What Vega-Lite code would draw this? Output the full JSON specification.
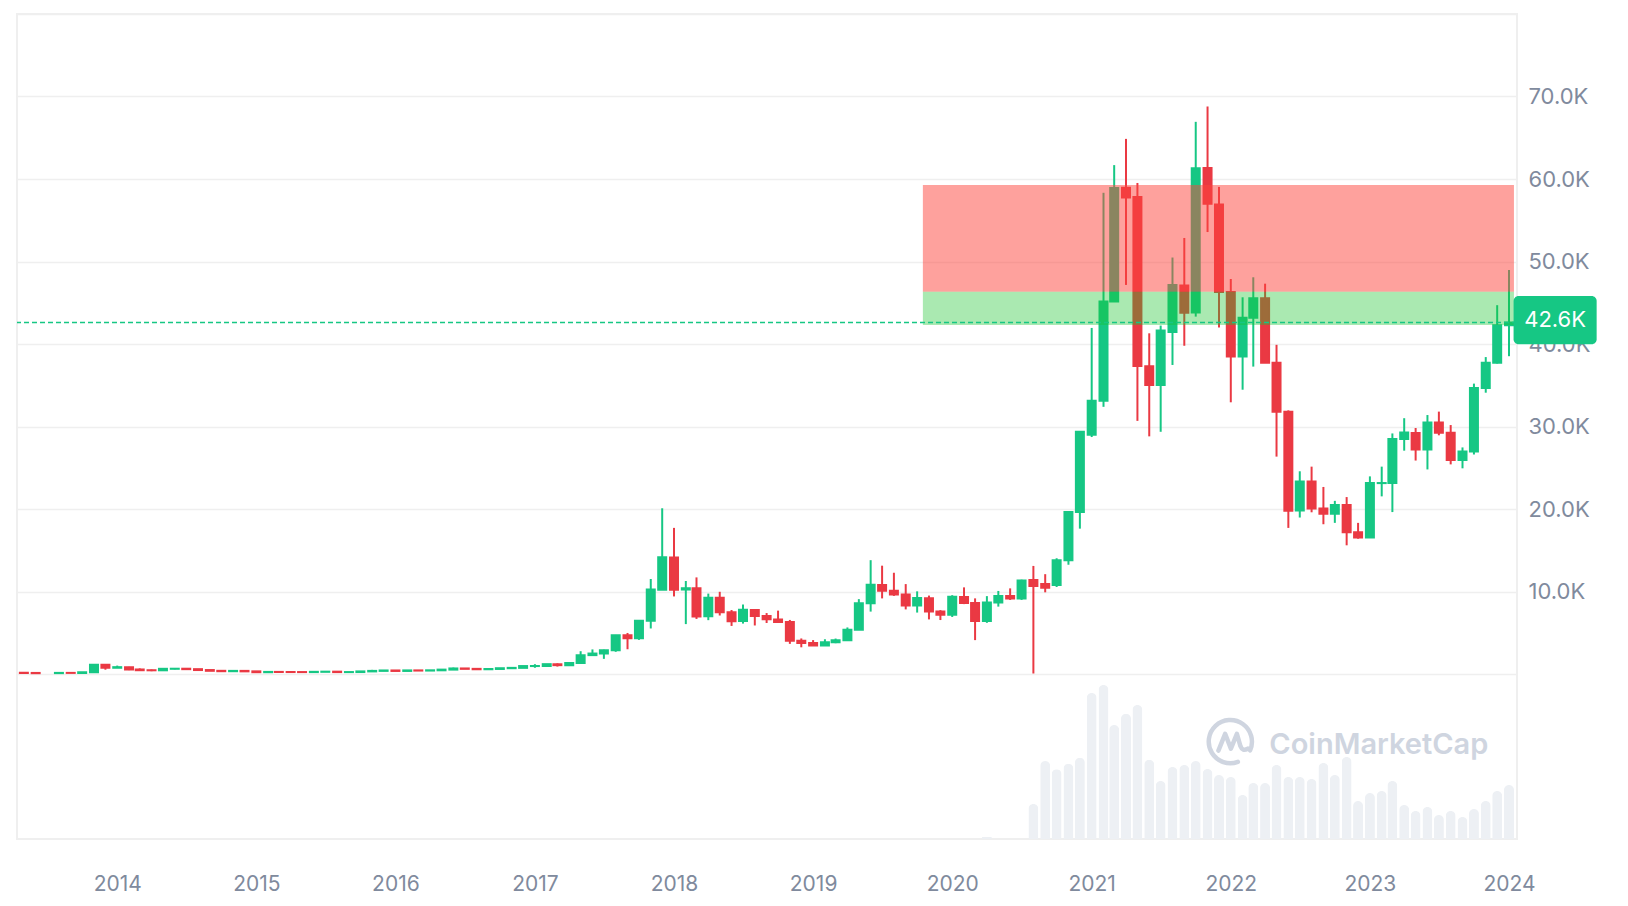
{
  "$schema": "https://vega.github.io/schema/vega-lite/v6.json",
  "width": 1500,
  "height": 825,
  "autosize": {"type": "none"},
  "padding": {"left": 17, "top": 14, "right": 111, "bottom": 67},
  "background": "white",
  "config": {"font": "Inter", "view": {"stroke": "#efefef", "strokeWidth": 2}},
  "datasets": {
    "btc": [
      {"date": "2013-05-01", "open": 139, "high": 139.9, "low": 90, "close": 129},
      {"date": "2013-06-01", "open": 129.3, "high": 129.8, "low": 88, "close": 97.5},
      {"date": "2013-08-01", "open": 106.2, "high": 136, "low": 101.6, "close": 135.4},
      {"date": "2013-09-01", "open": 135.1, "high": 146, "low": 119, "close": 133},
      {"date": "2013-10-01", "open": 132.7, "high": 214, "low": 104.4, "close": 204},
      {"date": "2013-11-01", "open": 203.9, "high": 1156, "low": 199.1, "close": 1129},
      {"date": "2013-12-01", "open": 1128, "high": 1156, "low": 522, "close": 754},
      {"date": "2014-01-01", "open": 755, "high": 1017, "low": 739, "close": 829},
      {"date": "2014-02-01", "open": 829, "high": 871, "low": 470, "close": 549},
      {"date": "2014-03-01", "open": 549, "high": 679, "low": 446, "close": 458},
      {"date": "2014-04-01", "open": 458, "high": 547, "low": 340, "close": 448},
      {"date": "2014-05-01", "open": 448, "high": 633, "low": 437, "close": 630},
      {"date": "2014-06-01", "open": 630, "high": 672, "low": 558, "close": 641},
      {"date": "2014-07-01", "open": 641, "high": 655, "low": 566, "close": 586},
      {"date": "2014-08-01", "open": 587, "high": 600, "low": 450, "close": 480},
      {"date": "2014-09-01", "open": 480, "high": 494, "low": 372, "close": 386},
      {"date": "2014-10-01", "open": 387, "high": 412, "low": 289, "close": 338},
      {"date": "2014-11-01", "open": 338, "high": 457, "low": 318, "close": 378},
      {"date": "2014-12-01", "open": 378, "high": 380, "low": 310, "close": 320},
      {"date": "2015-01-01", "open": 320, "high": 320, "low": 171, "close": 217},
      {"date": "2015-02-01", "open": 217, "high": 267, "low": 212, "close": 254},
      {"date": "2015-03-01", "open": 254, "high": 299, "low": 236, "close": 244},
      {"date": "2015-04-01", "open": 244, "high": 258, "low": 214, "close": 236},
      {"date": "2015-05-01", "open": 236, "high": 249, "low": 226, "close": 230},
      {"date": "2015-06-01", "open": 230, "high": 268, "low": 218, "close": 263},
      {"date": "2015-07-01", "open": 263, "high": 316, "low": 253, "close": 284},
      {"date": "2015-08-01", "open": 284, "high": 285, "low": 199, "close": 230},
      {"date": "2015-09-01", "open": 230, "high": 247, "low": 225, "close": 236},
      {"date": "2015-10-01", "open": 236, "high": 333, "low": 235, "close": 314},
      {"date": "2015-11-01", "open": 314, "high": 502, "low": 304, "close": 377},
      {"date": "2015-12-01", "open": 377, "high": 466, "low": 350, "close": 430},
      {"date": "2016-01-01", "open": 430, "high": 463, "low": 351, "close": 368},
      {"date": "2016-02-01", "open": 369, "high": 448, "low": 366, "close": 437},
      {"date": "2016-03-01", "open": 437, "high": 439, "low": 395, "close": 416},
      {"date": "2016-04-01", "open": 416, "high": 467, "low": 414, "close": 448},
      {"date": "2016-05-01", "open": 448, "high": 554, "low": 434, "close": 531},
      {"date": "2016-06-01", "open": 531, "high": 778, "low": 526, "close": 673},
      {"date": "2016-07-01", "open": 673, "high": 705, "low": 606, "close": 624},
      {"date": "2016-08-01", "open": 624, "high": 626, "low": 540, "close": 575},
      {"date": "2016-09-01", "open": 575, "high": 613, "low": 569, "close": 609},
      {"date": "2016-10-01", "open": 610, "high": 721, "low": 609, "close": 701},
      {"date": "2016-11-01", "open": 702, "high": 753, "low": 684, "close": 743},
      {"date": "2016-12-01", "open": 743, "high": 979, "low": 741, "close": 963},
      {"date": "2017-01-01", "open": 963, "high": 1191, "low": 755, "close": 971},
      {"date": "2017-02-01", "open": 971, "high": 1215, "low": 939, "close": 1193},
      {"date": "2017-03-01", "open": 1180, "high": 1290, "low": 903, "close": 1071},
      {"date": "2017-04-01", "open": 1071, "high": 1347, "low": 1060, "close": 1348},
      {"date": "2017-05-01", "open": 1348, "high": 2763, "low": 1348, "close": 2286},
      {"date": "2017-06-01", "open": 2288, "high": 2981, "low": 2301, "close": 2480},
      {"date": "2017-07-01", "open": 2492, "high": 2954, "low": 1836, "close": 2875},
      {"date": "2017-08-01", "open": 2871, "high": 4736, "low": 2691, "close": 4703},
      {"date": "2017-09-01", "open": 4701, "high": 4975, "low": 3000, "close": 4339},
      {"date": "2017-10-01", "open": 4341, "high": 6470, "low": 4140, "close": 6468},
      {"date": "2017-11-01", "open": 6440, "high": 11517, "low": 5519, "close": 10233},
      {"date": "2017-12-01", "open": 10198, "high": 20089, "low": 10198, "close": 14156},
      {"date": "2018-01-01", "open": 14112, "high": 17712, "low": 9402, "close": 10221},
      {"date": "2018-02-01", "open": 10238, "high": 11274, "low": 6048, "close": 10397},
      {"date": "2018-03-01", "open": 10385, "high": 11710, "low": 6675, "close": 6973},
      {"date": "2018-04-01", "open": 7003, "high": 9745, "low": 6526, "close": 9240},
      {"date": "2018-05-01", "open": 9251, "high": 9964, "low": 7090, "close": 7494},
      {"date": "2018-06-01", "open": 7500, "high": 7754, "low": 5826, "close": 6404},
      {"date": "2018-07-01", "open": 6411, "high": 8424, "low": 6111, "close": 7780},
      {"date": "2018-08-01", "open": 7769, "high": 7769, "low": 5881, "close": 7037},
      {"date": "2018-09-01", "open": 7044, "high": 7388, "low": 6183, "close": 6625},
      {"date": "2018-10-01", "open": 6619, "high": 7681, "low": 6197, "close": 6318},
      {"date": "2018-11-01", "open": 6318, "high": 6552, "low": 3652, "close": 4017},
      {"date": "2018-12-01", "open": 4025, "high": 4309, "low": 3236, "close": 3743},
      {"date": "2019-01-01", "open": 3746, "high": 4109, "low": 3401, "close": 3458},
      {"date": "2019-02-01", "open": 3460, "high": 4210, "low": 3397, "close": 3854},
      {"date": "2019-03-01", "open": 3853, "high": 4296, "low": 3733, "close": 4105},
      {"date": "2019-04-01", "open": 4105, "high": 5643, "low": 4096, "close": 5350},
      {"date": "2019-05-01", "open": 5350, "high": 9074, "low": 5347, "close": 8574},
      {"date": "2019-06-01", "open": 8573, "high": 13796, "low": 7564, "close": 10817},
      {"date": "2019-07-01", "open": 10796, "high": 13130, "low": 9164, "close": 10085},
      {"date": "2019-08-01", "open": 10077, "high": 12273, "low": 9467, "close": 9630},
      {"date": "2019-09-01", "open": 9630, "high": 10898, "low": 7830, "close": 8293},
      {"date": "2019-10-01", "open": 8299, "high": 10021, "low": 7446, "close": 9199},
      {"date": "2019-11-01", "open": 9193, "high": 9505, "low": 6617, "close": 7569},
      {"date": "2019-12-01", "open": 7571, "high": 7743, "low": 6540, "close": 7193},
      {"date": "2020-01-01", "open": 7194, "high": 9553, "low": 6914, "close": 9350},
      {"date": "2020-02-01", "open": 9346, "high": 10500, "low": 8471, "close": 8599},
      {"date": "2020-03-01", "open": 8600, "high": 9167, "low": 4107, "close": 6438},
      {"date": "2020-04-01", "open": 6437, "high": 9439, "low": 6202, "close": 8658},
      {"date": "2020-05-01", "open": 8672, "high": 10067, "low": 8167, "close": 9462},
      {"date": "2020-06-01", "open": 9463, "high": 10380, "low": 8975, "close": 9138},
      {"date": "2020-07-01", "open": 9145, "high": 11434, "low": 8977, "close": 11323},
      {"date": "2020-08-01", "open": 11390, "high": 13100, "low": 60, "close": 10680},
      {"date": "2020-09-01", "open": 10900, "high": 12100, "low": 9900, "close": 10450},
      {"date": "2020-10-01", "open": 10795, "high": 14029, "low": 10546, "close": 13781},
      {"date": "2020-11-01", "open": 13780, "high": 19749, "low": 13243, "close": 19625},
      {"date": "2020-12-01", "open": 19633, "high": 29244, "low": 17619, "close": 29374},
      {"date": "2021-01-01", "open": 28995, "high": 41946, "low": 28722, "close": 33114},
      {"date": "2021-02-01", "open": 33114, "high": 58330, "low": 32385, "close": 45137},
      {"date": "2021-03-01", "open": 45159, "high": 61683, "low": 45115, "close": 58918},
      {"date": "2021-04-01", "open": 58926, "high": 64863, "low": 47159, "close": 57750},
      {"date": "2021-05-01", "open": 57826, "high": 59519, "low": 30681, "close": 37332},
      {"date": "2021-06-01", "open": 37293, "high": 41295, "low": 28805, "close": 35040},
      {"date": "2021-07-01", "open": 35035, "high": 42235, "low": 29360, "close": 41626},
      {"date": "2021-08-01", "open": 41461, "high": 50482, "low": 37458, "close": 47166},
      {"date": "2021-09-01", "open": 47099, "high": 52853, "low": 39787, "close": 43790},
      {"date": "2021-10-01", "open": 43816, "high": 66930, "low": 43320, "close": 61318},
      {"date": "2021-11-01", "open": 61320, "high": 68789, "low": 53569, "close": 57005},
      {"date": "2021-12-01", "open": 56907, "high": 59041, "low": 42001, "close": 46306},
      {"date": "2022-01-01", "open": 46311, "high": 47881, "low": 32934, "close": 38483},
      {"date": "2022-02-01", "open": 38481, "high": 45661, "low": 34459, "close": 43193},
      {"date": "2022-03-01", "open": 43194, "high": 48087, "low": 37260, "close": 45538},
      {"date": "2022-04-01", "open": 45554, "high": 47313, "low": 37697, "close": 37714},
      {"date": "2022-05-01", "open": 37714, "high": 39902, "low": 26350, "close": 31792},
      {"date": "2022-06-01", "open": 31792, "high": 31957, "low": 17708, "close": 19785},
      {"date": "2022-07-01", "open": 19820, "high": 24572, "low": 18966, "close": 23336},
      {"date": "2022-08-01", "open": 23336, "high": 25135, "low": 19600, "close": 20049},
      {"date": "2022-09-01", "open": 20050, "high": 22673, "low": 18153, "close": 19431},
      {"date": "2022-10-01", "open": 19431, "high": 20988, "low": 18320, "close": 20495},
      {"date": "2022-11-01", "open": 20495, "high": 21446, "low": 15599, "close": 17168},
      {"date": "2022-12-01", "open": 17168, "high": 18318, "low": 16398, "close": 16547},
      {"date": "2023-01-01", "open": 16547, "high": 23955, "low": 16521, "close": 23139},
      {"date": "2023-02-01", "open": 23138, "high": 25135, "low": 21531, "close": 23147},
      {"date": "2023-03-01", "open": 23150, "high": 29160, "low": 19628, "close": 28478},
      {"date": "2023-04-01", "open": 28473, "high": 31006, "low": 27071, "close": 29268},
      {"date": "2023-05-01", "open": 29227, "high": 29821, "low": 25872, "close": 27219},
      {"date": "2023-06-01", "open": 27218, "high": 31390, "low": 24796, "close": 30477},
      {"date": "2023-07-01", "open": 30471, "high": 31804, "low": 28934, "close": 29230},
      {"date": "2023-08-01", "open": 29230, "high": 30176, "low": 25409, "close": 25931},
      {"date": "2023-09-01", "open": 25934, "high": 27464, "low": 24930, "close": 26967},
      {"date": "2023-10-01", "open": 26967, "high": 35198, "low": 26606, "close": 34668},
      {"date": "2023-11-01", "open": 34657, "high": 38415, "low": 34097, "close": 37713},
      {"date": "2023-12-01", "open": 37718, "high": 44705, "low": 37630, "close": 42265},
      {"date": "2024-01-01", "open": 42280, "high": 48969, "low": 38521, "close": 42600}
    ],
    "volume": [
      {"date": "2020-04-01", "volume": 25},
      {"date": "2020-08-01", "volume": 385},
      {"date": "2020-09-01", "volume": 858},
      {"date": "2020-10-01", "volume": 767},
      {"date": "2020-11-01", "volume": 828},
      {"date": "2020-12-01", "volume": 894},
      {"date": "2021-01-01", "volume": 1606},
      {"date": "2021-02-01", "volume": 1694},
      {"date": "2021-03-01", "volume": 1254},
      {"date": "2021-04-01", "volume": 1378},
      {"date": "2021-05-01", "volume": 1474},
      {"date": "2021-06-01", "volume": 872},
      {"date": "2021-07-01", "volume": 638},
      {"date": "2021-08-01", "volume": 792},
      {"date": "2021-09-01", "volume": 814},
      {"date": "2021-10-01", "volume": 858},
      {"date": "2021-11-01", "volume": 770},
      {"date": "2021-12-01", "volume": 704},
      {"date": "2022-01-01", "volume": 682},
      {"date": "2022-02-01", "volume": 484},
      {"date": "2022-03-01", "volume": 616},
      {"date": "2022-04-01", "volume": 616},
      {"date": "2022-05-01", "volume": 814},
      {"date": "2022-06-01", "volume": 682},
      {"date": "2022-07-01", "volume": 682},
      {"date": "2022-08-01", "volume": 660},
      {"date": "2022-09-01", "volume": 836},
      {"date": "2022-10-01", "volume": 704},
      {"date": "2022-11-01", "volume": 902},
      {"date": "2022-12-01", "volume": 418},
      {"date": "2023-01-01", "volume": 506},
      {"date": "2023-02-01", "volume": 528},
      {"date": "2023-03-01", "volume": 638},
      {"date": "2023-04-01", "volume": 374},
      {"date": "2023-05-01", "volume": 308},
      {"date": "2023-06-01", "volume": 352},
      {"date": "2023-07-01", "volume": 264},
      {"date": "2023-08-01", "volume": 308},
      {"date": "2023-09-01", "volume": 242},
      {"date": "2023-10-01", "volume": 330},
      {"date": "2023-11-01", "volume": 418},
      {"date": "2023-12-01", "volume": 528},
      {"date": "2024-01-01", "volume": 594}
    ],
    "zones": [
      {"zone": "sell", "start": "2019-10-16", "end": "2024-01-14", "low": 46340, "high": 59270},
      {"zone": "buy", "start": "2019-10-16", "end": "2024-01-14", "low": 42300, "high": 46340}
    ]
  },
  "resolve": {"scale": {"y": "independent"}, "axis": {"x": "independent", "y": "independent"}},
  "layer": [
    {
      "data": {"name": "volume"},
      "mark": {"type": "bar", "size": 10, "color": "#edf0f4", "cornerRadiusTopLeft": 5, "cornerRadiusTopRight": 5},
      "encoding": {
        "x": {"field": "date", "type": "temporal", "scale": {"type": "utc", "nice": false, "padding": 0, "domain": [{"year": 2013, "month": 4, "date": 13, "utc": true}, {"year": 2024, "month": 1, "date": 22, "utc": true}]}, "axis": null},
        "y": {"field": "volume", "type": "quantitative", "scale": {"domain": [0, 9075], "nice": false, "zero": true}, "axis": null}
      }
    },
    {
      "data": {"name": "btc"},
      "mark": {"type": "rule", "strokeWidth": 2},
      "encoding": {
        "x": {
          "field": "date", "type": "temporal",
          "scale": {"type": "utc", "nice": false, "padding": 0, "domain": [{"year": 2013, "month": 4, "date": 13, "utc": true}, {"year": 2024, "month": 1, "date": 22, "utc": true}]},
          "axis": {
            "orient": "bottom",
            "values": [1388534400000, 1420070400000, 1451606400000, 1483228800000, 1514764800000, 1546300800000, 1577836800000, 1609459200000, 1640995200000, 1672531200000, 1704067200000],
            "format": "%Y",
            "domain": false, "ticks": false, "grid": false,
            "labelFont": "Inter", "labelFontSize": 21, "labelColor": "#808a9d", "labelAngle": 0,
            "labelPadding": 34, "labelFlush": false, "labelOverlap": false,
            "title": null
          }
        },
        "y": {
          "field": "low", "type": "quantitative",
          "scale": {"domain": [-20000, 80000], "nice": false, "zero": false},
          "axis": {
            "orient": "right",
            "values": [0, 10000, 20000, 30000, 40000, 50000, 60000, 70000, 80000],
            "labelExpr": "datum.value > 0 && datum.value < 80000 ? format(datum.value / 1000, '.1f') + 'K' : ''",
            "domain": false, "ticks": false,
            "grid": true, "gridColor": "#efefef", "gridWidth": 1.5,
            "labelFont": "Inter", "labelFontSize": 22, "labelColor": "#808a9d",
            "labelPadding": 11, "labelBaseline": "middle", "labelAlign": "left", "labelFlush": false,
            "title": null
          }
        },
        "y2": {"field": "high"},
        "color": {"condition": {"test": "datum.close >= datum.open", "value": "#16c784"}, "value": "#ea3943"}
      }
    },
    {
      "data": {"name": "btc"},
      "mark": {"type": "bar", "size": 8, "strokeWidth": 2},
      "encoding": {
        "x": {"field": "date", "type": "temporal", "scale": {"type": "utc", "nice": false, "padding": 0, "domain": [{"year": 2013, "month": 4, "date": 13, "utc": true}, {"year": 2024, "month": 1, "date": 22, "utc": true}]}, "axis": null},
        "y": {"field": "open", "type": "quantitative", "scale": {"domain": [-20000, 80000], "nice": false, "zero": false}, "axis": null},
        "y2": {"field": "close"},
        "fill": {"condition": {"test": "datum.close >= datum.open", "value": "#16c784"}, "value": "#ea3943"},
        "stroke": {"condition": {"test": "datum.close >= datum.open", "value": "#16c784"}, "value": "#ea3943"}
      }
    },
    {
      "data": {"name": "zones"},
      "mark": {"type": "rect"},
      "encoding": {
        "x": {"field": "start", "type": "temporal", "scale": {"type": "utc", "nice": false, "padding": 0, "domain": [{"year": 2013, "month": 4, "date": 13, "utc": true}, {"year": 2024, "month": 1, "date": 22, "utc": true}]}, "axis": null},
        "x2": {"field": "end"},
        "y": {"field": "low", "type": "quantitative", "scale": {"domain": [-20000, 80000], "nice": false, "zero": false}, "axis": null},
        "y2": {"field": "high"},
        "fill": {"condition": {"test": "datum.zone === 'sell'", "value": "#fd433b"}, "value": "#19c32c"},
        "fillOpacity": {"condition": {"test": "datum.zone === 'sell'", "value": 0.5}, "value": 0.37}
      }
    },
    {
      "data": {"values": [{"price": 42600}]},
      "mark": {"type": "rule", "color": "#16c784", "strokeWidth": 1.5, "strokeDash": [5, 3]},
      "encoding": {
        "y": {"field": "price", "type": "quantitative", "scale": {"domain": [-20000, 80000], "nice": false, "zero": false}, "axis": null}
      }
    },
    {
      "data": {"values": [{"price": 42600}]},
      "mark": {"type": "rect", "color": "#16c784", "cornerRadius": 5},
      "encoding": {
        "x": {"datum": {"year": 2024, "month": 1, "date": 13, "utc": true}, "type": "temporal", "scale": {"type": "utc", "nice": false, "padding": 0, "domain": [{"year": 2013, "month": 4, "date": 13, "utc": true}, {"year": 2024, "month": 1, "date": 22, "utc": true}]}, "axis": null},
        "x2": {"datum": {"year": 2024, "month": 8, "date": 18, "utc": true}},
        "y": {"datum": 45820, "type": "quantitative", "scale": {"domain": [-20000, 80000], "nice": false, "zero": false}, "axis": null},
        "y2": {"datum": 39960}
      }
    },
    {
      "data": {"values": [{"label": "42.6K", "price": 42600}]},
      "mark": {"type": "text", "color": "white", "font": "Inter", "fontSize": 22, "align": "center", "baseline": "middle"},
      "encoding": {
        "x": {"datum": {"year": 2024, "month": 5, "date": 1, "utc": true}, "type": "temporal", "scale": {"type": "utc", "nice": false, "padding": 0, "domain": [{"year": 2013, "month": 4, "date": 13, "utc": true}, {"year": 2024, "month": 1, "date": 22, "utc": true}]}, "axis": null},
        "y": {"datum": 42880, "type": "quantitative", "scale": {"domain": [-20000, 80000], "nice": false, "zero": false}, "axis": null},
        "text": {"field": "label"}
      }
    },
    {
      "data": {"values": [{"label": "CoinMarketCap"}]},
      "mark": {"type": "text", "color": "#cfd5e0", "font": "Inter", "fontSize": 29, "fontWeight": 600, "align": "left", "baseline": "alphabetic"},
      "encoding": {
        "x": {"datum": {"year": 2022, "month": 4, "date": 12, "utc": true}, "type": "temporal", "scale": {"type": "utc", "nice": false, "padding": 0, "domain": [{"year": 2013, "month": 4, "date": 13, "utc": true}, {"year": 2024, "month": 1, "date": 22, "utc": true}]}, "axis": null},
        "y": {"datum": -9700, "type": "quantitative", "scale": {"domain": [-20000, 80000], "nice": false, "zero": false}, "axis": null},
        "text": {"field": "label"}
      }
    },
    {
      "data": {"values": [{"label": "logo"}]},
      "mark": {
        "type": "point", "filled": false, "stroke": "#cfd5e0", "strokeWidth": 4.5, "strokeCap": "round", "strokeJoin": "round", "opacity": 1, "size": 2304,
        "shape": "M 0.31 0.85 A 0.9 0.9 0 1 1 0.82 0.37 M -0.5 0.38 L -0.22 -0.32 L 0.02 0.3 L 0.27 -0.32 L 0.42 0.2 Q 0.5 0.42 0.72 0.3"
      },
      "encoding": {
        "x": {"datum": {"year": 2021, "month": 12, "date": 31, "utc": true}, "type": "temporal", "scale": {"type": "utc", "nice": false, "padding": 0, "domain": [{"year": 2013, "month": 4, "date": 13, "utc": true}, {"year": 2024, "month": 1, "date": 22, "utc": true}]}, "axis": null},
        "y": {"datum": -8180, "type": "quantitative", "scale": {"domain": [-20000, 80000], "nice": false, "zero": false}, "axis": null}
      }
    }
  ]
}
